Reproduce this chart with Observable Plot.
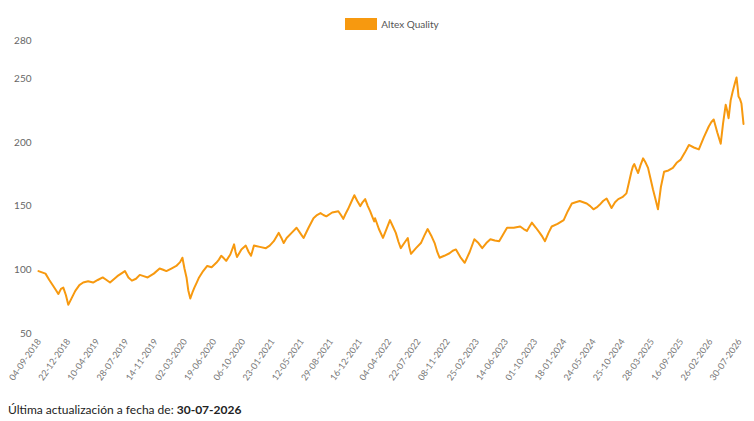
<!DOCTYPE html>
<html><head><meta charset="utf-8">
<script src="https://cdn.jsdelivr.net/npm/d3@7"></script>
<script src="https://cdn.jsdelivr.net/npm/@observablehq/plot@0.6"></script>
<style>
body{margin:0;background:#fff;font-family:Lato,"Open Sans",sans-serif;width:754px;}
#legend{height:30px;display:flex;justify-content:center;align-items:flex-end;font-size:10px;color:#555;}
#legend span.sw{display:inline-block;width:32px;height:12px;background:#f7990f;margin-right:4px;}
#foot{font-size:12px;color:#222;padding-left:8px;margin-top:6px;}
</style></head><body>
<div id="legend"><div style="display:flex;align-items:center;margin-left:30px"><span class="sw"></span>Altex Quality</div></div>
<div id="chart"></div>
<div id="foot">Última actualización a fecha de: <b>30-07-2026</b></div>
<script>
const tickLabels=["04-09-2018","22-12-2018","10-04-2019","28-07-2019","14-11-2019","02-03-2020","19-06-2020","06-10-2020","23-01-2021","12-05-2021","29-08-2021","16-12-2021","04-04-2022","22-07-2022","08-11-2022","25-02-2023","14-06-2023","01-10-2023","18-01-2024","24-05-2024","25-10-2024","28-03-2025","16-09-2025","26-02-2026","30-07-2026"];
const pos=[0,0.12,0.24,0.37,0.5,0.6,0.68,0.77,0.85,0.94,1.02,1.14,1.26,1.4,1.53,1.7,1.87,2.03,2.2,2.33,2.45,2.7,2.96,3.08,3.2,3.34,3.47,3.6,3.74,3.95,4.15,4.27,4.38,4.55,4.72,4.85,4.93,5.0,5.07,5.13,5.2,5.27,5.34,5.42,5.5,5.64,5.78,5.93,6.09,6.18,6.26,6.35,6.43,6.57,6.7,6.75,6.8,6.95,7.1,7.2,7.28,7.33,7.38,7.58,7.79,7.92,8.06,8.15,8.23,8.32,8.4,8.45,8.5,8.67,8.84,8.96,9.08,9.25,9.42,9.54,9.66,9.76,9.86,10.06,10.27,10.36,10.44,10.52,10.6,10.71,10.82,10.92,11.02,11.1,11.19,11.28,11.36,11.43,11.5,11.53,11.66,11.8,11.92,12.04,12.14,12.24,12.33,12.41,12.53,12.65,12.7,12.76,12.93,13.1,13.22,13.33,13.45,13.57,13.66,13.74,13.9,14.08,14.19,14.3,14.45,14.6,14.77,14.93,15.07,15.2,15.34,15.48,15.63,15.78,15.92,16.05,16.28,16.5,16.62,16.73,16.82,16.9,17.04,17.17,17.26,17.35,17.47,17.58,17.78,17.99,18.13,18.27,18.4,18.54,18.66,18.78,18.9,19.01,19.12,19.22,19.34,19.46,19.55,19.63,19.75,19.86,20.0,20.14,20.22,20.31,20.36,20.41,20.48,20.54,20.62,20.71,20.8,20.88,20.96,21.05,21.14,21.22,21.32,21.43,21.58,21.73,21.86,22.0,22.14,22.28,22.45,22.62,22.79,22.96,23.05,23.13,23.25,23.37,23.45,23.54,23.59,23.64,23.71,23.78,23.85,23.91,23.95,23.98,24.03,24.08,24.15];
const vals=[99,98,97,92,87.5,84,81,85,86,80,72.5,78,83.5,88,90,91,90,92,94,92,90,95,99,94,91.5,93,96,95,94,97,101,100,99,101,103,106,109.5,101,94,84,77.5,82,86,90,94,99,103,102,105.5,108,111,109,107,112,120,114,110,116,119,114,111,115,119,118,117,119,122.5,126,129,125,121,123,125,129,133,129,125,133,140.5,143,144.5,143,142,145,146,143,140,144,147.5,153,158.5,154,150,153,155.5,150,146,142,138,140.5,132,125,132,139,134,129,122,117,121,125,118,112.5,117,121,127,132,127,121,114,109.5,111,113,115,116,110,105.5,114,124,121,117,121,124,123,122.5,128,133,133,134,132,130.5,134,137,133,129,126,122.5,129,134,136,139,146,152,153,154,153,152,150,147.5,149,151,154,156,152,148.5,153,155.5,157,160,168,177,181,183,179,176,182,187.5,184,180,172,163,155,147.5,165,177,178,180,184,186.5,192,198,196,194.5,204,212.5,216,218,208,199,215,229.5,225,219,233,240,246,251,243,236,234,230.5,214.5];
const data=pos.map((p,i)=>({t:p,v:vals[i]}));
const orange="#f7990f";
const chart=Plot.plot({
  width:754,height:366,marginTop:10,marginLeft:38,marginRight:11,marginBottom:63,
  style:{fontFamily:"Lato, 'Open Sans', sans-serif",color:"#666",background:"#fff"},
  x:{domain:[0,24.15],axis:null},
  y:{domain:[50,280],label:null},
  marks:[
    Plot.axisY({ticks:[50,100,150,200,250,280],tickSize:0,tickPadding:7,fontSize:10,fill:"#666",label:null}),
    Plot.line(data,{x:"t",y:"v",stroke:orange,strokeWidth:2,strokeLinejoin:"round"}),
    Plot.text(tickLabels,{x:(d,i)=>i,frameAnchor:"bottom",dy:8,dx:3,rotate:-55,textAnchor:"end",fontSize:9,fill:"#777",text:d=>d})
  ]
});
document.getElementById("chart").appendChild(chart);
</script></body></html>
